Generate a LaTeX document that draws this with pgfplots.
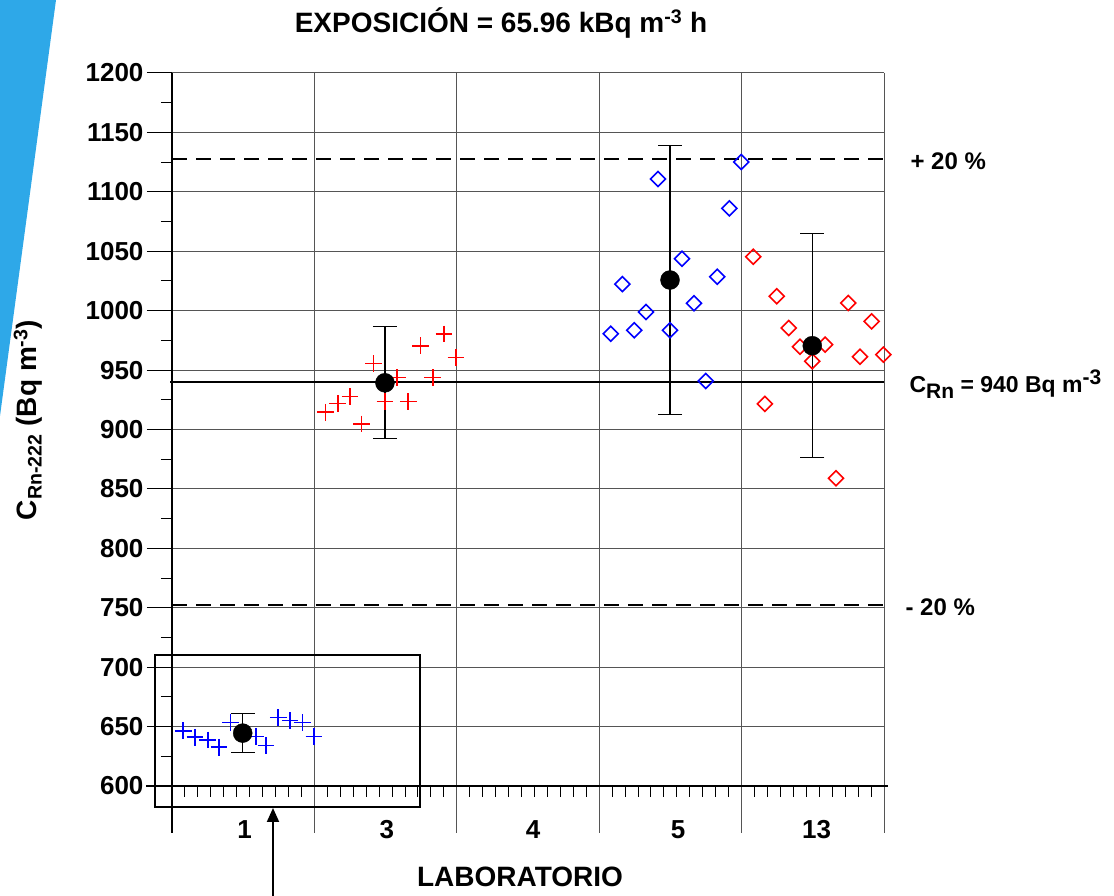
\documentclass[border=0pt]{standalone}
\usepackage{fontspec}
\setmainfont{Liberation Sans}
\usepackage{pgfplots}
\usepackage{pgfplotstable}
\pgfplotsset{compat=1.18}
\usetikzlibrary{arrows.meta}

\definecolor{stripe}{RGB}{46,168,232}
\definecolor{gridc}{RGB}{85,85,85}

% Detector readings per laboratory (x = detector slot, y = C_Rn-222 in Bq m^-3)
\pgfplotstableread{
x y
0.87 646.5
1.78 641.0
2.76 638.7
3.63 632.6
4.53 653.3
6.49 641.5
7.26 634.2
8.21 657.8
9.12 655.0
10.07 653.3
10.97 641.5
}\labA
\pgfplotstableread{
x y
11.87 914.5
12.80 922.0
13.75 927.6
14.65 904.6
15.55 955.7
16.45 923.4
17.40 943.6
18.25 923.4
19.21 970.5
20.14 943.6
21.01 980.4
21.94 960.7
}\labB
\pgfplotstableread{
x y
33.89 980.6
34.79 1022.4
35.71 983.5
36.62 998.9
37.54 1110.8
38.47 983.5
39.40 1043.7
40.32 1006.2
41.23 940.8
42.12 1028.6
43.05 1086.1
43.98 1125.1
}\labC
\pgfplotstableread{
x y
44.90 1045.4
45.80 921.5
46.71 1012.1
47.64 985.4
48.51 969.7
49.46 957.4
50.45 971.4
51.29 858.9
52.24 1006.4
53.14 961.2
54.05 991.0
54.95 963.0
}\labD
% Laboratory means with their uncertainty
\pgfplotstableread{
x y e
5.46 644.5 16.3
16.45 939.3 47.2
38.47 1025.8 113.0
49.46 970.5 94.1
}\means

\newcommand{\fs}[1]{\fontsize{#1}{#1}\selectfont\bfseries}

\begin{document}
\begin{tikzpicture}
\useasboundingbox (0,0) rectangle (1114pt,896pt);
\fill[stripe] (0,896pt) -- (56pt,896pt) -- (0,480pt) -- cycle;

\begin{axis}[
  at={(172pt,110pt)}, anchor=south west,
  width=712pt, height=713pt, scale only axis,
  xmin=0, xmax=55, ymin=600, ymax=1200,
  clip=false,
  axis line style={draw=none},
  ytick={600,650,...,1200},
  minor ytick={625,675,...,1175},
  xtick={5.6,16.6,27.9,39.1,49.8},
  xticklabels={1,3,4,5,13},
  minor xtick={0,...,55},
  xtick pos=bottom, ytick pos=left,
  tick align=outside,
  major tick length=25pt, minor tick length=11pt,
  tick style={black, line width=1pt},
  major x tick style={draw=none},
  ymajorgrids,
  major grid style={gridc, line width=1pt},
  /pgf/number format/assume math mode=true,
  /pgf/number format/set thousands separator={},
  yticklabel style={font=\fs{26}},
  xticklabel style={font=\fs{26}, yshift=-6pt},
]
% section separators, running below the axis
\pgfplotsinvokeforeach{11,22,33,44,55}{
  \draw[gridc, line width=1pt] (axis cs:#1,1200) -- (axis cs:#1,560.4);
}
\draw[black, line width=1.3pt] (axis cs:0,1200) -- (axis cs:0,560.4);
\draw[black, line width=1.5pt] (axis cs:-2,600) -- (axis cs:55.3,600);

% reference value and +/- 20 % limits
\addplot[black, line width=2pt] coordinates {(-0.15,940) (55,940)};
\addplot[black, line width=2pt, dash pattern=on 15pt off 9pt] coordinates {(0,1128) (55,1128)};
\addplot[black, line width=2pt, dash pattern=on 15pt off 9pt] coordinates {(0,752) (55,752)};

\addplot[only marks, blue, mark=+, mark size=8.3pt, line width=1.6pt] table {\labA};
\addplot[only marks, red, mark=+, mark size=8.3pt, line width=1.6pt] table {\labB};
\addplot[only marks, blue, mark=square, mark size=5.3pt, line width=1.6pt,
  mark options={rotate=45}] table {\labC};
\addplot[only marks, red, mark=square, mark size=5.3pt, line width=1.6pt,
  mark options={rotate=45}] table {\labD};

\addplot[only marks, black, mark=*, mark size=9.5pt,
  error bars/.cd, y dir=both, y explicit,
  error mark=|,
  error bar style={black, line width=1.2pt},
  error mark options={black, mark size=12pt, line width=1.2pt}]
  table[x=x, y=y, y error=e] {\means};
\end{axis}

\begin{scope}[x=1pt, y=-1pt, yshift=896pt]
  \draw[line width=1.5pt] (155,655) rectangle (420,807);
  \draw[line width=2pt, -{Triangle[length=14pt, width=12pt]}] (273,896) -- (273,808);
  \node[font=\fs{28}] at (501,23) {EXPOSICIÓN = 65.96 kBq m\textsuperscript{-3} h};
  \node[font=\fs{28}] at (520,877) {LABORATORIO};
  \node[font=\fs{28}, rotate=90] at (28,420) {C\textsubscript{Rn-222} (Bq m\textsuperscript{-3})};
  \node[font=\fs{24}, anchor=west] at (907,161) {+ 20 \%};
  \node[font=\fs{24}, anchor=west] at (902,607) {- 20 \%};
  \node[font=\fs{23}, anchor=west] at (906,384)
    {C\raisebox{-6pt}{\fs{21}Rn} = 940 Bq m\raisebox{8pt}{\fs{21}-3}};
\end{scope}
\end{tikzpicture}
\end{document}
